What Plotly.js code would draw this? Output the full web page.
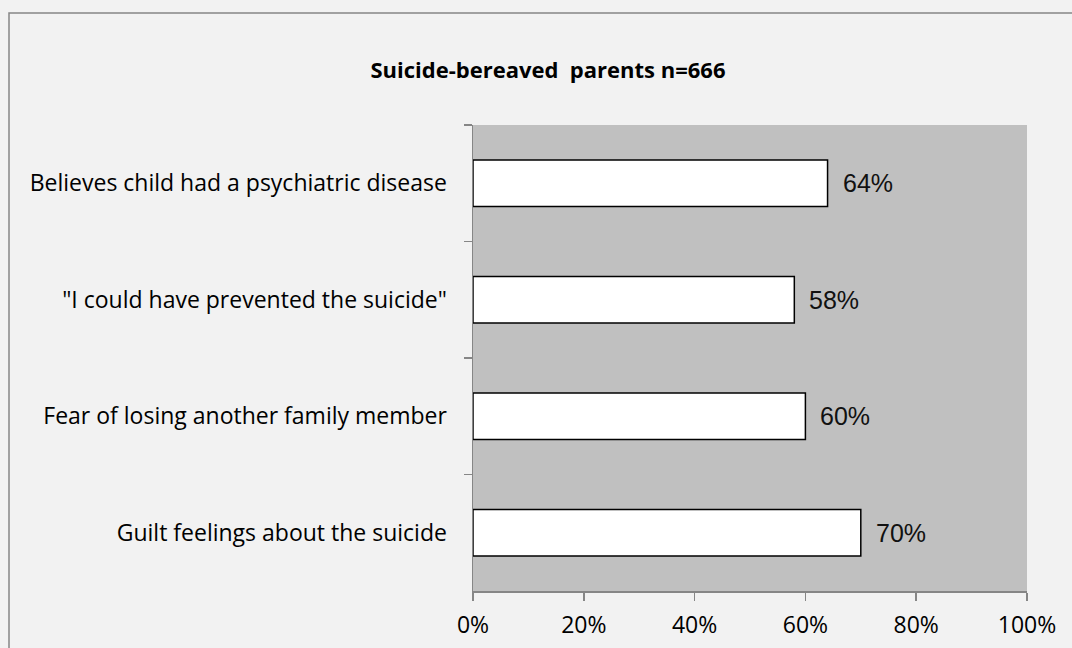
<!DOCTYPE html>
<html>
<head>
<meta charset="utf-8">
<script src="https://cdn.plot.ly/plotly-3.0.1.min.js"></script>
<style>
html,body{margin:0;padding:0;background:#F2F2F2;}
#chart{width:1072px;height:648px;}
</style>
</head>
<body>
<div id="chart"></div>
<script>
const categories = [
  'Believes child had a psychiatric disease',
  '"I could have prevented the suicide"',
  'Fear of losing another family member',
  'Guilt feelings about the suicide'
];
const values = [0.64, 0.58, 0.60, 0.70];
const valueLabels = ['64%', '58%', '60%', '70%'];
const xTickVals = [0, 0.2, 0.4, 0.6, 0.8, 1.0];
const xTickText = ['0%', '20%', '40%', '60%', '80%', '100%'];
const chartTitle = 'Suicide-bereaved  parents n=666';

const W = 1072, H = 648;
const L = 473, R = 1027, T = 125, B = 591;
const pw = R - L, ph = B - T;

const trace = {
  type: 'bar',
  orientation: 'h',
  y: categories,
  x: values,
  width: 0.4,
  marker: {color: '#FFFFFF', line: {color: '#000000', width: 1.5}},
  hoverinfo: 'none'
};

const annotations = categories.map((c, i) => ({
  x: values[i], y: c, xref: 'x', yref: 'y',
  text: valueLabels[i], showarrow: false,
  xanchor: 'left', yanchor: 'middle', xshift: 13,
  font: {family: 'Liberation Sans, Arial, sans-serif', size: 25, color: '#111111'}
}));

const layout = {
  width: W, height: H,
  margin: {l: L, r: W - R, t: T, b: H - B, pad: 0},
  paper_bgcolor: '#F2F2F2',
  plot_bgcolor: '#C0C0C0',
  showlegend: false,
  title: {
    text: '<b>' + chartTitle + '</b>',
    x: 548 / W, xanchor: 'center',
    y: 1 - 70 / H, yanchor: 'middle',
    font: {family: 'Open Sans, sans-serif', size: 22, color: '#000000'}
  },
  xaxis: {
    range: [0, 1],
    tickvals: xTickVals, ticktext: xTickText,
    showgrid: false, zeroline: false,
    showline: true, linecolor: '#868686', linewidth: 1.5,
    ticks: 'outside', ticklen: 8, tickwidth: 1.5, tickcolor: '#868686',
    tickfont: {family: 'Open Sans, sans-serif', size: 23, color: '#000000'},
    ticklabelstandoff: 5,
    fixedrange: true
  },
  yaxis: {
    type: 'category',
    autorange: 'reversed',
    showgrid: false, zeroline: false,
    showline: true, linecolor: '#868686', linewidth: 1.5,
    ticks: 'outside', ticklen: 8, tickwidth: 1.5, tickcolor: '#868686',
    tickson: 'boundaries',
    tickfont: {family: 'Open Sans, sans-serif', size: 23, color: '#000000'},
    ticklabelstandoff: 20,
    fixedrange: true
  },
  annotations: annotations,
  shapes: [{
    type: 'rect', xref: 'paper', yref: 'paper',
    x0: (9 - L) / pw, x1: (W + 20 - L) / pw,
    y0: (B - (H + 20)) / ph, y1: (B - 13) / ph,
    line: {color: '#868686', width: 1.5},
    fillcolor: 'rgba(0,0,0,0)', layer: 'below'
  }]
};

Plotly.newPlot('chart', [trace], layout, {staticPlot: true, displayModeBar: false});
</script>
</body>
</html>
